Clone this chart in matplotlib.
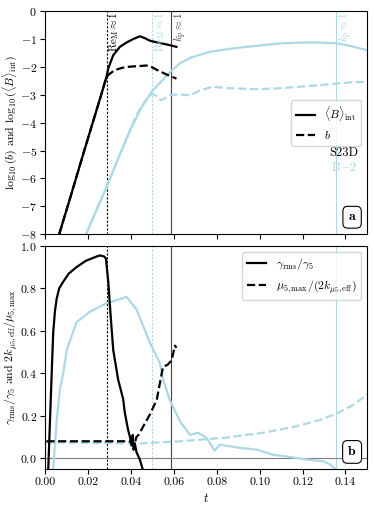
import matplotlib
matplotlib.use('Agg')
import matplotlib.pyplot as plt
import numpy as np

plt.rcParams['font.family'] = 'serif'
plt.rcParams['font.serif'] = ['cmr10', 'DejaVu Serif']
plt.rcParams['mathtext.fontset'] = 'cm'
plt.rcParams['axes.formatter.use_mathtext'] = True
plt.rcParams['axes.unicode_minus'] = True

# panel a, S23D
t_B_s23 = [0.0065, 0.012, 0.018, 0.0255, 0.0286, 0.0294, 0.0317, 0.0348, 0.038, 0.041, 0.0441, 0.0465, 0.0488, 0.0527, 0.057, 0.0612]
B_s23 = [-8.0, -6.6, -5.05, -3.15, -2.35, -2.05, -1.58, -1.28, -1.12, -1.0, -0.9, -0.97, -1.06, -1.13, -1.2, -1.28]
t_b_s23 = [0.0065, 0.012, 0.018, 0.0255, 0.0286, 0.030, 0.0325, 0.036, 0.0395, 0.0435, 0.0472, 0.0495, 0.0519, 0.0565, 0.0612]
b_s23 = [-8.0, -6.6, -5.05, -3.15, -2.35, -2.25, -2.11, -2.03, -1.99, -1.97, -1.95, -2.0, -2.1, -2.27, -2.42]

# panel a, R-2
t_B_r2 = [0.019, 0.0286, 0.035, 0.040, 0.045, 0.050, 0.055, 0.0586, 0.0628, 0.068, 0.0768, 0.085, 0.095, 0.109, 0.118, 0.125, 0.1356, 0.142, 0.150]
B_r2 = [-8.0, -6.3, -5.1, -4.2, -3.45, -2.85, -2.45, -2.15, -1.87, -1.66, -1.46, -1.36, -1.27, -1.16, -1.13, -1.12, -1.15, -1.24, -1.40]
t_b_r2 = [0.019, 0.0286, 0.035, 0.040, 0.042, 0.045, 0.048, 0.050, 0.052, 0.054, 0.056, 0.058, 0.062, 0.0675, 0.072, 0.078, 0.085, 0.0986, 0.110, 0.125, 0.1356, 0.143, 0.150]
b_r2 = [-8.0, -6.3, -5.1, -4.2, -3.8, -3.4, -3.08, -2.97, -3.05, -3.2, -3.12, -3.02, -2.98, -3.02, -2.85, -2.71, -2.76, -2.8, -2.76, -2.67, -2.6, -2.55, -2.53]

# panel b, S23D
t_g_s23 = [0.0014, 0.003, 0.0037, 0.0045, 0.0053, 0.0065, 0.0083, 0.011, 0.0146, 0.019, 0.024, 0.0255, 0.0275, 0.0283, 0.0294, 0.0305, 0.0317, 0.034, 0.0363, 0.0371, 0.0385, 0.0395, 0.0402, 0.0408, 0.0412, 0.0418, 0.0425, 0.0441, 0.0454]
g_s23 = [-0.05, 0.40, 0.59, 0.69, 0.75, 0.80, 0.83, 0.87, 0.90, 0.93, 0.95, 0.955, 0.95, 0.94, 0.83, 0.67, 0.51, 0.37, 0.28, 0.215, 0.14, 0.10, 0.06, 0.11, 0.04, 0.07, 0.03, -0.006, -0.05]
t_mu_s23 = [0.0005, 0.010, 0.020, 0.030, 0.037, 0.040, 0.0415, 0.0425, 0.0435, 0.0457, 0.049, 0.052, 0.0549, 0.057, 0.0589, 0.0598, 0.0605, 0.0612]
mu_s23 = [0.08, 0.08, 0.08, 0.08, 0.08, 0.079, 0.06, 0.1, 0.11, 0.15, 0.21, 0.276, 0.43, 0.44, 0.46, 0.50, 0.53, 0.52]

# panel b, R-2
t_g_r2 = [0.0037, 0.0055, 0.0069, 0.0084, 0.010, 0.0146, 0.0208, 0.0286, 0.0335, 0.0379, 0.0426, 0.0488, 0.0534, 0.055, 0.058, 0.0628, 0.0675, 0.0713, 0.0752, 0.079, 0.0814, 0.0907, 0.0985, 0.106, 0.114, 0.122, 0.1296, 0.133, 0.135]
g_r2 = [-0.05, 0.2, 0.33, 0.40, 0.51, 0.64, 0.69, 0.73, 0.745, 0.76, 0.70, 0.544, 0.45, 0.37, 0.276, 0.174, 0.11, 0.12, 0.096, 0.036, 0.064, 0.049, 0.041, 0.017, 0.006, -0.006, -0.014, -0.03, -0.05]
t_mu_r2 = [0.0, 0.020, 0.040, 0.045, 0.0628, 0.083, 0.1016, 0.117, 0.128, 0.1358, 0.1435, 0.150]
mu_r2 = [0.075, 0.073, 0.07, 0.07, 0.08, 0.096, 0.12, 0.15, 0.18, 0.21, 0.25, 0.30]

# vertical markers
t_lines = [0.0286, 0.0499, 0.0586, 0.1356]
line_labels = [r'$\mathrm{Re_M}\approx 1$', r'$\mathrm{Re_M}\approx 1$', r'$k_\mathrm{p}\approx 1$', r'$k_\mathrm{p}\approx 1$']
line_colors = ['black', 'lightblue', '#444444', 'lightblue']
line_styles = [(0, (2, 1.5)), (0, (2, 1.5)), '-', '-']

blue = 'lightblue'

fig = plt.figure(figsize=(3.74, 5.08), dpi=100)
ax1 = fig.add_axes([0.121, 0.539, 0.860, 0.439])
ax2 = fig.add_axes([0.121, 0.077, 0.860, 0.439], sharex=ax1)

for ax in (ax1, ax2):
    for tl, c, ls in zip(t_lines, line_colors, line_styles):
        ax.axvline(tl, color=c, ls=ls, lw=0.8, zorder=1)
    ax.tick_params(labelsize=8.5, pad=2.5)

for tl, lab, c in zip(t_lines, line_labels, line_colors):
    ax1.text(tl + 0.0004, 0.997, lab, rotation=90, ha='left', va='top', fontsize=8,
             color=c, transform=ax1.get_xaxis_transform())

# panel a
ax1.plot(t_B_r2, B_r2, color=blue, lw=1.6)
ax1.plot(t_b_r2, b_r2, color=blue, lw=1.6, ls='--')
ax1.plot(t_B_s23, B_s23, color='black', lw=1.6, label=r'$\langle B\rangle_\mathrm{int}$')
ax1.plot(t_b_s23, b_s23, color='black', lw=1.6, ls='--', label=r'$b$')
ax1.set_xlim(0, 0.15)
ax1.set_ylim(-8, 0)
ax1.set_ylabel(r'$\log_{10}(b)$ and $\log_{10}(\langle B\rangle_\mathrm{int})$', fontsize=8.5)
ax1.yaxis.set_label_coords(-0.082, 0.5)
ax1.tick_params(labelbottom=False)
ax1.legend(loc='center right', fontsize=8.5, handlelength=1.6)
ax1.text(0.972, 0.363, 'S23D', ha='right', va='center', fontsize=9, transform=ax1.transAxes)
ax1.text(0.972, 0.30, r'R$-$2', ha='right', va='center', fontsize=9, color=blue, transform=ax1.transAxes)
ax1.text(0.954, 0.076, r'$\mathbf{a}$', ha='center', va='center', fontsize=10, transform=ax1.transAxes,
         bbox=dict(boxstyle='round,pad=0.35', fc='white', ec='black', lw=0.8))

# panel b
ax2.axhline(0, color='gray', lw=0.8, zorder=1)
ax2.plot(t_g_r2, g_r2, color=blue, lw=1.6)
ax2.plot(t_mu_r2, mu_r2, color=blue, lw=1.6, ls='--')
ax2.plot(t_g_s23, g_s23, color='black', lw=1.6, label=r'$\gamma_\mathrm{rms}/\gamma_5$')
ax2.plot(t_mu_s23, mu_s23, color='black', lw=1.6, ls='--', label=r'$\mu_{5,\mathrm{max}}/(2k_{\mu_5,\mathrm{eff}})$')
ax2.set_ylim(-0.05, 1.0)
ax2.set_xticks([0.0, 0.02, 0.04, 0.06, 0.08, 0.10, 0.12, 0.14])
ax2.xaxis.set_major_formatter(matplotlib.ticker.FormatStrFormatter('%.2f'))
ax2.set_xlabel(r'$t$', fontsize=9)
ax2.set_ylabel(r'$\gamma_\mathrm{rms}/\gamma_5$ and $2k_{\mu_5,\mathrm{eff}}/\mu_{5,\mathrm{max}}$', fontsize=8.5)
ax2.yaxis.set_label_coords(-0.082, 0.5)
ax2.legend(loc='upper right', fontsize=8.5, handlelength=1.6)
ax2.text(0.954, 0.076, r'$\mathbf{b}$', ha='center', va='center', fontsize=10, transform=ax2.transAxes,
         bbox=dict(boxstyle='round,pad=0.35', fc='white', ec='black', lw=0.8))

fig.savefig('out.png', dpi=100)
